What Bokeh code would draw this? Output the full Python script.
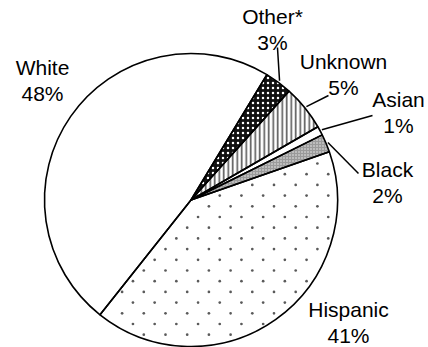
import math
from bokeh.plotting import figure
from bokeh.models import Range1d, ColumnDataSource
from bokeh.core.properties import value
from bokeh.embed import file_html
from bokeh.resources import INLINE

# ---- data ----
categories = ["White", "Hispanic", "Black", "Asian", "Unknown", "Other*"]
percents = [48, 41, 2, 1, 5, 3]

# ---- style / layout ----
fills = ["white", "white", "#9a9a9a", "white", "white", "#111111"]
hatches = [" ", " ", "dot", " ", "vertical_line", "dot"]
hatch_colors = ["black", "black", "#f0f0f0", "black", "#555555", "white"]
hatch_scales = [6, 6, 3, 6, 4.5, 5]
hatch_weights = [1, 1, 0.8, 1, 1.6, 1.6]
start_deg = 58.8           # White begins here and slices run anticlockwise
label_x = [42, 348, 387, 398, 343, 272]
label_y = [80, 322, 182, 112, 74, 29]       # screen coordinates (from top)
leader_end = [None, None, (358, 173), (372, 115), (328, 95), (277, 47)]
stipple_index = 1          # Hispanic slice gets a sparse staggered dot texture
stipple_dx, stipple_dy = 21.7, 10.7

W, H = 428, 347
cx, cy, R = 190.5, 347 - 199.5, 146.5   # centre in data units (y up)

def sy(y):  # screen y -> data y
    return H - y

starts, ends = [], []
a = math.radians(start_deg)
for pct in percents:
    starts.append(a)
    a += pct / 100 * 2 * math.pi
    ends.append(a)

p = figure(width=W, height=H, output_backend="svg", toolbar_location=None,
           x_range=Range1d(0, W), y_range=Range1d(0, H), min_border=0)
p.axis.visible = False
p.grid.visible = False
p.outline_line_color = None
p.background_fill_color = "white"

for i in range(len(categories)):
    p.wedge(x=cx, y=cy, radius=R, start_angle=starts[i], end_angle=ends[i],
            fill_color=fills[i], line_color=None,
            hatch_pattern=hatches[i], hatch_color=hatch_colors[i],
            hatch_scale=hatch_scales[i], hatch_weight=hatch_weights[i])

# sparse stipple texture inside the Hispanic slice
s0, s1 = starts[stipple_index], ends[stipple_index]
span = s1 - s0
sx_, sy_ = [], []
row = 0
yy = sy(270) - 30 * stipple_dy
while yy < H:
    off = (row % 2) * stipple_dx / 2
    xx = 143.3 - 10 * stipple_dx + off
    while xx < W:
        dx, dy = xx - cx, yy - cy
        r = math.hypot(dx, dy)
        ang = math.atan2(dy, dx)
        if 3 < r < R - 2.5 and (ang - s0) % (2 * math.pi) < span:
            if abs(r * math.sin(ang - s0)) > 2.5 and abs(r * math.sin(ang - s1)) > 2.5:
                sx_.append(xx)
                sy_.append(yy)
        xx += stipple_dx
    yy += stipple_dy
    row += 1
p.scatter(sx_, sy_, marker="circle", size=2.7, fill_color="#5a5a5a",
          line_color=None)

# slice outlines
for i in range(len(categories)):
    p.wedge(x=cx, y=cy, radius=R, start_angle=starts[i], end_angle=ends[i],
            fill_color=None, line_color="black", line_width=1.6)

# leader lines
for i in range(len(categories)):
    if leader_end[i] is None:
        continue
    mid = (starts[i] + ends[i]) / 2
    x0 = cx + (R + 2) * math.cos(mid)
    y0 = cy + (R + 2) * math.sin(mid)
    ex, ey = leader_end[i]
    p.line([x0, ex], [y0, sy(ey)], line_color="black", line_width=1.5)

labels = [f"{c}\n{v}%" for c, v in zip(categories, percents)]
src = ColumnDataSource(dict(x=label_x, y=[sy(v) for v in label_y], t=labels))
p.text(x="x", y="y", text="t", source=src, text_align="center",
       text_baseline="middle", text_font=value("Liberation Sans"),
       text_font_size="21px", text_color="black", text_line_height=1.15)

open("out.html", "w").write(file_html(p, INLINE))
